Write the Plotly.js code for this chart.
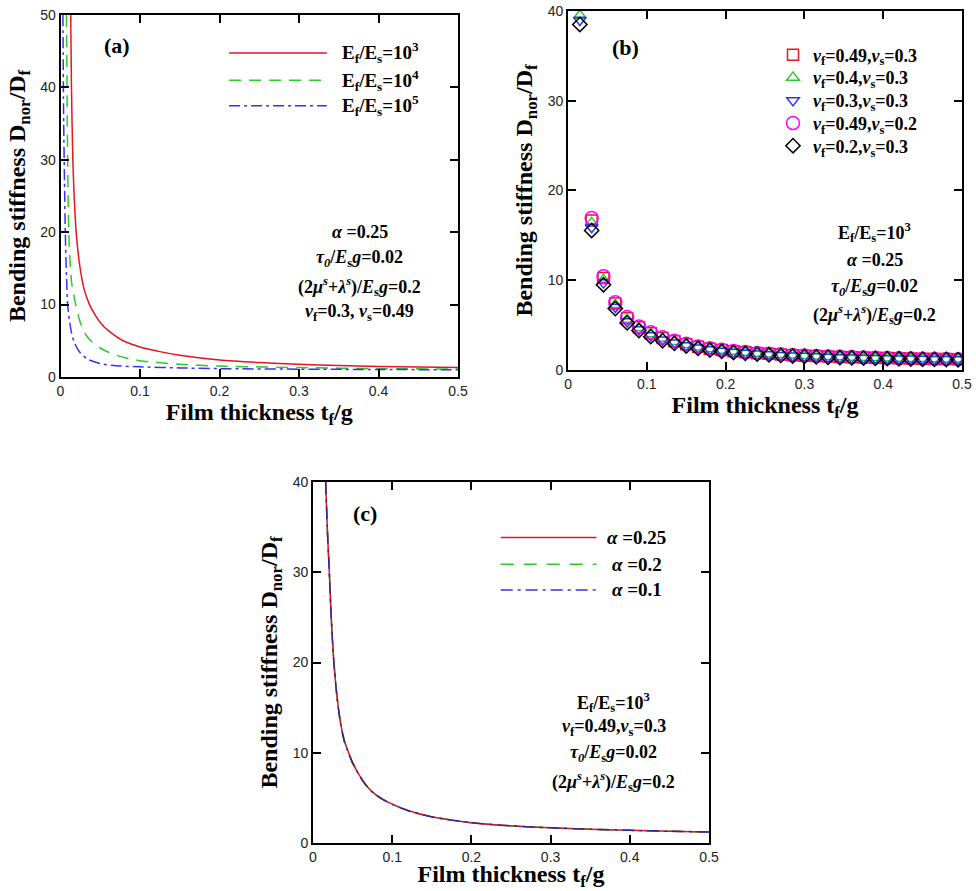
<!DOCTYPE html>
<html>
<head>
<meta charset="utf-8">
<script src="https://cdn.plot.ly/plotly-3.0.1.min.js"></script>
<style>html,body{margin:0;padding:0;background:#fff;}#chart{width:976px;height:891px;}</style>
</head>
<body>
<div id="chart"></div>
<script>
// ---------- Panel (a) data ----------
const a_x_e3 = [0.0128,0.0138,0.0155,0.0197,0.0247,0.030,0.0365,0.045,0.054,0.065,0.079,0.10,0.125,0.15,0.20,0.25,0.30,0.35,0.40,0.45,0.50];
const a_y_e3 = [50,40,30,20,15,12,10,8.3,7.0,6.0,5.0,4.15,3.5,3.0,2.35,2.0,1.75,1.6,1.45,1.38,1.3];
const a_x_e4 = [0.0075,0.0085,0.0095,0.011,0.014,0.019,0.025,0.032,0.040,0.050,0.065,0.080,0.10,0.15,0.20,0.30,0.40,0.50];
const a_y_e4 = [50,35,25,18,13,10,7.5,5.8,4.8,4.0,3.2,2.7,2.25,1.75,1.5,1.3,1.15,1.1];
const a_x_e5 = [0.003,0.004,0.005,0.006,0.0075,0.009,0.011,0.014,0.018,0.025,0.035,0.05,0.07,0.10,0.15,0.20,0.30,0.40,0.50];
const a_y_e5 = [50,35,27,20,14,10,8,6,4.6,3.3,2.4,1.85,1.55,1.4,1.25,1.15,1.08,1.03,1.0];
const a_names = ["E<sub>f</sub>/E<sub>s</sub>=10<sup>3</sup>","E<sub>f</sub>/E<sub>s</sub>=10<sup>4</sup>","E<sub>f</sub>/E<sub>s</sub>=10<sup>5</sup>"];

// ---------- Panel (b) data ----------
const b_x = [0.015,0.03,0.045,0.06,0.075,0.09,0.105,0.12,0.135,0.15,0.165,0.18,0.195,0.21,0.225,0.24,0.255,0.27,0.285,0.3,0.315,0.33,0.345,0.36,0.375,0.39,0.405,0.42,0.435,0.45,0.465,0.48,0.495];
const b_sq  = [41.0,16.67,10.26,7.41,5.77,4.76,4.10,3.57,3.21,2.87,2.58,2.38,2.22,2.09,1.97,1.87,1.80,1.73,1.66,1.60,1.55,1.50,1.46,1.42,1.39,1.36,1.33,1.30,1.28,1.26,1.24,1.22,1.20];
const b_tri = [39.5,16.39,10.07,7.27,5.64,4.67,4.01,3.50,3.15,2.82,2.54,2.34,2.18,2.06,1.94,1.85,1.77,1.70,1.64,1.58,1.53,1.48,1.44,1.41,1.37,1.34,1.31,1.29,1.27,1.25,1.23,1.21,1.19];
const b_inv = [39.0,15.90,9.74,7.02,5.41,4.51,3.84,3.37,3.05,2.74,2.47,2.28,2.12,2.00,1.90,1.80,1.73,1.66,1.60,1.55,1.50,1.45,1.41,1.38,1.35,1.32,1.29,1.27,1.25,1.23,1.21,1.19,1.17];
const b_cir = [41.8,16.95,10.45,7.55,5.90,4.85,4.20,3.65,3.27,2.92,2.62,2.42,2.25,2.12,2.00,1.90,1.82,1.75,1.68,1.62,1.57,1.52,1.48,1.44,1.40,1.37,1.34,1.31,1.29,1.27,1.25,1.23,1.21];
const b_dia = [38.5,15.55,9.50,6.85,5.25,4.40,3.72,3.27,2.97,2.68,2.42,2.23,2.08,1.96,1.86,1.77,1.70,1.63,1.57,1.52,1.47,1.43,1.39,1.36,1.33,1.30,1.27,1.25,1.23,1.21,1.19,1.17,1.15];
const b_names = [
  "<i>ν</i><sub>f</sub>=0.49,<i>ν</i><sub>s</sub>=0.3",
  "<i>ν</i><sub>f</sub>=0.4,<i>ν</i><sub>s</sub>=0.3",
  "<i>ν</i><sub>f</sub>=0.3,<i>ν</i><sub>s</sub>=0.3",
  "<i>ν</i><sub>f</sub>=0.49,<i>ν</i><sub>s</sub>=0.2",
  "<i>ν</i><sub>f</sub>=0.2,<i>ν</i><sub>s</sub>=0.3"];

// ---------- Panel (c) data ----------
const c_x = [0.016,0.018,0.0206,0.023,0.026,0.03,0.035,0.04,0.045,0.05,0.06,0.07,0.08,0.09,0.1,0.12,0.15,0.2,0.25,0.3,0.35,0.4,0.45,0.5];
const c_y025 = [40,35,30,25,20.5,16.5,13.2,11.2,10.0,8.9,7.3,6.1,5.3,4.75,4.3,3.6,2.9,2.25,1.9,1.68,1.52,1.4,1.3,1.22];
const c_y020 = [40,35,30,25,20.5,16.5,13.2,11.2,10.0,8.9,7.3,6.1,5.3,4.75,4.3,3.6,2.9,2.25,1.9,1.68,1.52,1.4,1.3,1.22];
const c_y010 = [40,35,30,25,20.4,16.4,13.1,11.1,9.95,8.85,7.25,6.05,5.28,4.73,4.28,3.58,2.89,2.24,1.9,1.68,1.52,1.4,1.3,1.22];
const c_names = ["<i>α</i> =0.25","<i>α</i> =0.2","<i>α</i> =0.1"];

// ---------- styles ----------
const RED = "rgb(228,22,28)", GREEN = "rgb(40,205,40)", BLUE = "rgb(50,50,245)", MAG = "rgb(255,0,255)";
const DASH = "12px,8px", DASHDOT = "11px,4px,3px,4px";
const SERIF = "Liberation Serif, Times New Roman, serif";
const SANS = "Liberation Sans, Arial, sans-serif";

const traces = [
  {x:a_x_e3, y:a_y_e3, xaxis:'x', yaxis:'y', mode:'lines', name:a_names[0], showlegend:false, line:{color:RED, width:1.5, shape:'spline', smoothing:0.6}},
  {x:a_x_e4, y:a_y_e4, xaxis:'x', yaxis:'y', mode:'lines', name:a_names[1], showlegend:false, line:{color:GREEN, width:1.5, dash:DASH, shape:'spline', smoothing:0.6}},
  {x:a_x_e5, y:a_y_e5, xaxis:'x', yaxis:'y', mode:'lines', name:a_names[2], showlegend:false, line:{color:BLUE, width:1.5, dash:DASHDOT, shape:'spline', smoothing:0.6}},

  {x:b_x, y:b_sq,  xaxis:'x2', yaxis:'y2', mode:'markers', name:b_names[0], legend:'legend',  marker:{symbol:'square-open', size:11, color:RED, line:{width:1.5}}},
  {x:b_x, y:b_tri, xaxis:'x2', yaxis:'y2', mode:'markers', name:b_names[1], legend:'legend2', marker:{symbol:'triangle-up-open', size:11, color:GREEN, line:{width:1.5}}},
  {x:b_x, y:b_inv, xaxis:'x2', yaxis:'y2', mode:'markers', name:b_names[2], legend:'legend3', marker:{symbol:'triangle-down-open', size:11, color:BLUE, line:{width:1.5}}},
  {x:b_x, y:b_cir, xaxis:'x2', yaxis:'y2', mode:'markers', name:b_names[3], legend:'legend4', marker:{symbol:'circle-open', size:13, color:MAG, line:{width:1.5}}},
  {x:b_x, y:b_dia, xaxis:'x2', yaxis:'y2', mode:'markers', name:b_names[4], legend:'legend5', marker:{symbol:'diamond-open', size:11, color:'#000', line:{width:1.5}}},

  {x:c_x, y:c_y020, xaxis:'x3', yaxis:'y3', mode:'lines', name:c_names[1], showlegend:false, line:{color:GREEN, width:1.5, dash:"13px,10px", shape:'spline', smoothing:0.6}},
  {x:c_x, y:c_y025, xaxis:'x3', yaxis:'y3', mode:'lines', name:c_names[0], showlegend:false, line:{color:RED, width:1.5, shape:'spline', smoothing:0.6}},
  {x:c_x, y:c_y010, xaxis:'x3', yaxis:'y3', mode:'lines', name:c_names[2], showlegend:false, line:{color:"rgb(40,40,160)", width:1.5, dash:"12px,5px,3px,5px", shape:'spline', smoothing:0.6}}
];

function axis(domain, range, dtick, anchor, title, standoff){
  return {domain:domain, range:range, dtick:dtick, tick0:0, anchor:anchor,
    ticks:'inside', ticklen:8, tickwidth:2, tickcolor:'#000',
    showline:true, linewidth:2, linecolor:'#000', mirror:'ticks',
    showgrid:false, zeroline:false, fixedrange:true,
    tickfont:{family:SANS, size:14, color:'#222'},
    title:{text:title, font:{family:SERIF, size:24, color:'#000', weight:'bold'}, standoff:standoff}};
}
const XT = "<b>Film thickness t<sub>f</sub>/g</b>";
const YT = "<b>Bending stiffness D<sub>nor</sub>/D<sub>f</sub></b>";

const ann = [];
function txt(xref, yref, x, y, t, size, anchor){
  ann.push({xref:xref, yref:yref, x:x, y:y, text:'<b>'+t+'</b>', showarrow:false, xanchor:anchor||'center', yanchor:'middle',
    font:{family:SERIF, size:size||18, color:'#000'}});
}
// panel labels
txt('x domain','y domain',0.142,0.917,'(a)',22);
txt('x2 domain','y2 domain',0.145,0.897,'(b)',22);
txt('x3 domain','y3 domain',0.131,0.914,'(c)',22);
// panel (a) legend text
txt('x domain','y domain',0.703,0.895,a_names[0],19,'left');
txt('x domain','y domain',0.703,0.820,a_names[1],19,'left');
txt('x domain','y domain',0.703,0.749,a_names[2],19,'left');
// panel (a) parameters
txt('x domain','y domain',0.753,0.400,'<i>α</i> =0.25');
txt('x domain','y domain',0.753,0.326,'<i>τ<sub>0</sub></i>/<i>E</i><sub>s</sub><i>g</i>=0.02');
txt('x domain','y domain',0.753,0.249,'(2<i>μ<sup>s</sup></i>+<i>λ<sup>s</sup></i>)/<i>E</i><sub>s</sub><i>g</i>=0.2');
txt('x domain','y domain',0.753,0.177,'<i>ν</i><sub>f</sub>=0.3, <i>ν</i><sub>s</sub>=0.49');
// panel (b) parameters
txt('x2 domain','y2 domain',0.779,0.382,'E<sub>f</sub>/E<sub>s</sub>=10<sup>3</sup>');
txt('x2 domain','y2 domain',0.779,0.306,'<i>α</i> =0.25');
txt('x2 domain','y2 domain',0.779,0.231,'<i>τ<sub>0</sub></i>/<i>E</i><sub>s</sub><i>g</i>=0.02');
txt('x2 domain','y2 domain',0.779,0.156,'(2<i>μ<sup>s</sup></i>+<i>λ<sup>s</sup></i>)/<i>E</i><sub>s</sub><i>g</i>=0.2');
// panel (c) legend text
txt('x3 domain','y3 domain',0.818,0.846,c_names[0],19);
txt('x3 domain','y3 domain',0.818,0.772,c_names[1],19);
txt('x3 domain','y3 domain',0.818,0.701,c_names[2],19);
// panel (c) parameters
txt('x3 domain','y3 domain',0.760,0.388,'E<sub>f</sub>/E<sub>s</sub>=10<sup>3</sup>');
txt('x3 domain','y3 domain',0.760,0.319,'<i>ν</i><sub>f</sub>=0.49,<i>ν</i><sub>s</sub>=0.3');
txt('x3 domain','y3 domain',0.760,0.249,'<i>τ<sub>0</sub></i>/<i>E</i><sub>s</sub><i>g</i>=0.02');
txt('x3 domain','y3 domain',0.760,0.169,'(2<i>μ<sup>s</sup></i>+<i>λ<sup>s</sup></i>)/<i>E</i><sub>s</sub><i>g</i>=0.2');

function keyLine(xr, yr, x0, x1, y, color, dash){
  return {type:'line', xref:xr, yref:yr, x0:x0, x1:x1, y0:y, y1:y, line:{color:color, width:1.5, dash:dash}};
}
const shapes = [
  keyLine('x domain','y domain',0.424,0.670,0.895,RED,'solid'),
  keyLine('x domain','y domain',0.424,0.670,0.820,GREEN,DASH),
  keyLine('x domain','y domain',0.424,0.670,0.749,BLUE,DASHDOT),
  keyLine('x3 domain','y3 domain',0.474,0.716,0.846,RED,'solid'),
  keyLine('x3 domain','y3 domain',0.474,0.716,0.772,GREEN,"13px,10px"),
  keyLine('x3 domain','y3 domain',0.474,0.716,0.701,BLUE,"12px,5px,3px,5px")
];

function leg(y){
  return {x:0.792, xanchor:'left', y:y, yanchor:'middle', bgcolor:'rgba(0,0,0,0)', borderwidth:0,
    font:{family:SERIF, size:18, color:'#000', weight:'bold'}, itemsizing:'trace'};
}

const layout = {
  width:976, height:891, margin:{l:0,r:0,t:0,b:0}, paper_bgcolor:'#fff', plot_bgcolor:'#fff',
  showlegend:true,
  legend:leg(0.9383), legend2:leg(0.9128), legend3:leg(0.8870), legend4:leg(0.8616), legend5:leg(0.8361),
  xaxis: axis([0.0620,0.4693],[0,0.5],0.1,'y',XT,2),
  yaxis: axis([0.5769,0.9832],[0,50],10,'x',YT,8),
  xaxis2:axis([0.5820,0.9857],[0,0.5],0.1,'y2',XT,2),
  yaxis2:axis([0.5847,0.9877],[0,40],10,'x2',YT,8),
  xaxis3:axis([0.3207,0.7264],[0,0.5],0.1,'y3',XT,4),
  yaxis3:axis([0.0539,0.4590],[0,40],10,'x3',YT,8),
  annotations:ann, shapes:shapes
};
Plotly.newPlot('chart', traces, layout, {displayModeBar:false, staticPlot:true});
</script>
</body>
</html>
